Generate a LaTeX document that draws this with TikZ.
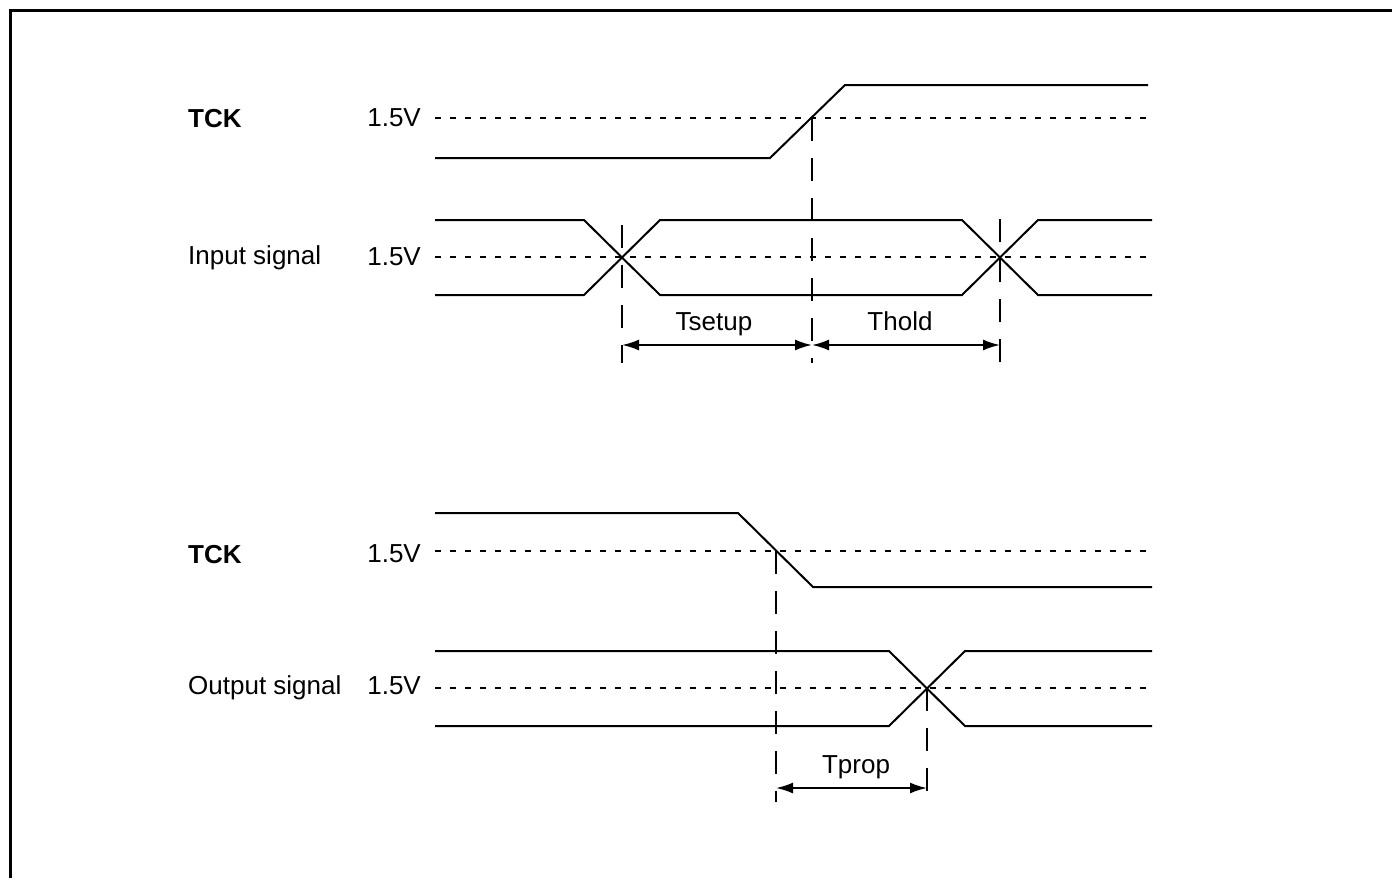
\documentclass[tikz,border=0pt]{standalone}
\usepackage{fontspec}
\setmainfont{Liberation Sans}
\usetikzlibrary{arrows.meta}
\begin{document}
\begin{tikzpicture}[x=1pt,y=-1pt,
  wave/.style={line width=2pt, line join=miter},
  lvl/.style={line width=2pt, dash pattern=on 6pt off 9pt},
  vguide/.style={line width=2pt, dash pattern=on 23pt off 17pt},
  dim/.style={line width=2pt, {Latex[length=17pt,width=11pt]}-{Latex[length=17pt,width=11pt]}},
  lab/.style={font=\fontsize{26}{30}\selectfont, inner sep=0pt},
  lbl/.style={lab, anchor=base west},
  volt/.style={lab, anchor=base east},
  timing/.style={lab, anchor=base}]
\useasboundingbox (0,0) rectangle (1392,878);
% frame
\draw[line width=3pt] (10,878) -- (10,10) -- (1392,10);

% ---------- upper diagram ----------
\node[lbl, font=\fontsize{26}{30}\selectfont\bfseries] (tck1) at (188,127) {TCK};
\node[volt] (v1) at (421,126) {1.5V};
\node[lbl] (insig) at (188,264) {Input signal};
\node[volt] (v2) at (421,265) {1.5V};

\draw[lvl] (435,118) -- (1148,118);
\draw[wave] (435,158) -- (770,158) -- (845,85) -- (1148,85);

\draw[lvl] (435,257) -- (1152,257);
\draw[wave] (435,220) -- (584,220) -- (660,295) -- (962,295) -- (1038,220) -- (1152,220);
\draw[wave] (435,295) -- (584,295) -- (660,220) -- (962,220) -- (1038,295) -- (1152,295);

\coordinate (s0) at (622,363);
\coordinate (s1) at (812,363);
\coordinate (s2) at (1000,363);
\draw[vguide] (622,225) -- (s0);
\draw[vguide] (812,118) -- (s1);
\draw[vguide] (1000,219) -- (s2);

\coordinate (a0) at (622,345);
\coordinate (a1) at (812,345);
\coordinate (a2) at (1000,345);
\draw[dim] (a0) -- (a1);
\draw[dim] (a1) -- (a2);
\node[timing] (tsetup) at (714,330) {Tsetup};
\node[timing] (thold) at (900,330) {Thold};

% ---------- lower diagram ----------
\node[lbl, font=\fontsize{26}{30}\selectfont\bfseries] (tck2) at (188,563) {TCK};
\node[volt] (v3) at (421,562) {1.5V};
\node[lbl] (outsig) at (188,694) {Output signal};
\node[volt] (v4) at (421,694) {1.5V};

\draw[lvl] (435,551) -- (1152,551);
\draw[wave] (435,513) -- (738,513) -- (813,587) -- (1152,587);

\draw[lvl] (435,688) -- (1152,688);
\draw[wave] (435,651) -- (889,651) -- (965,726) -- (1152,726);
\draw[wave] (435,726) -- (889,726) -- (965,651) -- (1152,651);

\coordinate (p0) at (776,802);
\coordinate (p1) at (927,802);
\draw[vguide] (776,551) -- (p0);
\draw[vguide] (927,688) -- (p1);

\coordinate (b0) at (776,788);
\coordinate (b1) at (927,788);
\draw[dim] (b0) -- (b1);
\node[timing] (tprop) at (856,773) {Tprop};
\end{tikzpicture}
\end{document}
